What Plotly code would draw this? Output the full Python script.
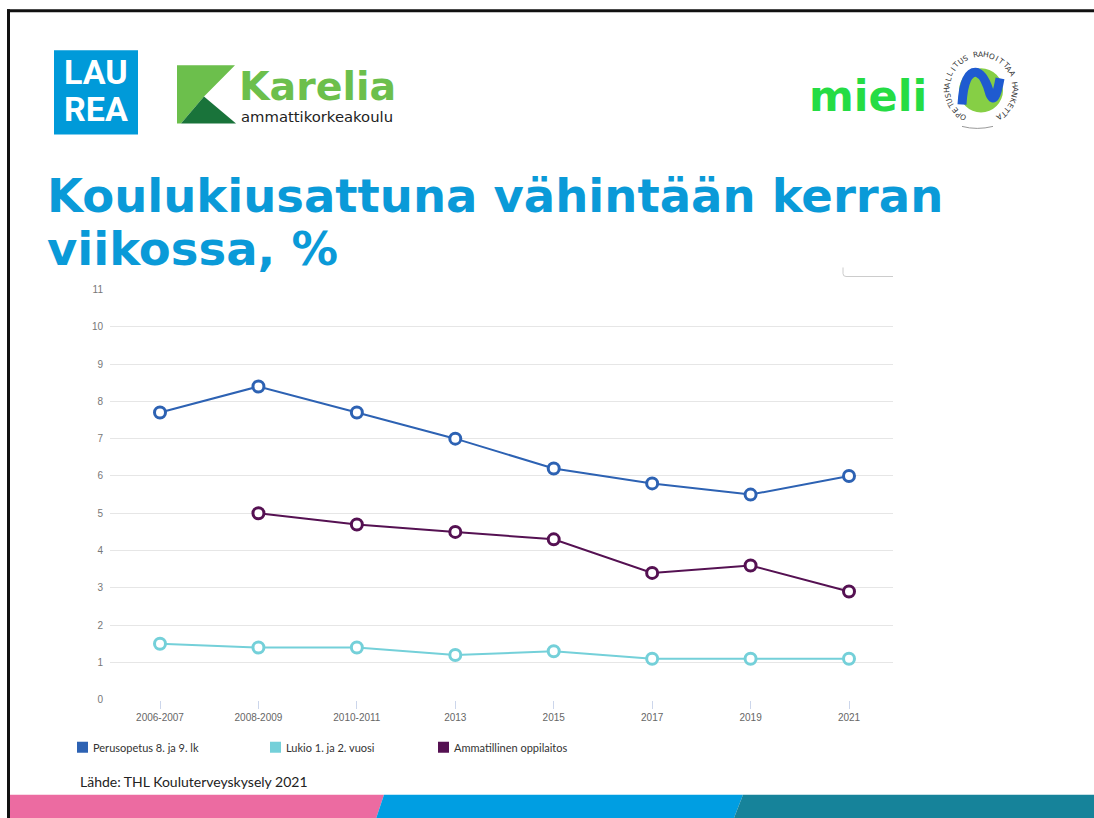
import math
import plotly.graph_objects as go

W, H = 1094, 818

# ---------------- data ----------------
categories = ["2006-2007", "2008-2009", "2010-2011", "2013", "2015", "2017", "2019", "2021"]
perusopetus = [7.7, 8.4, 7.7, 7.0, 6.2, 5.8, 5.5, 6.0]
lukio = [1.5, 1.4, 1.4, 1.2, 1.3, 1.1, 1.1, 1.1]
ammatillinen = [None, 5.0, 4.7, 4.5, 4.3, 3.4, 3.6, 2.9]
series_names = ["Perusopetus 8. ja 9. lk", "Lukio 1. ja 2. vuosi", "Ammatillinen oppilaitos"]
series_colors = ["#2d62b3", "#74d0d9", "#551152"]
y_ticks = list(range(0, 12))

title_lines = ["Koulukiusattuna vähintään kerran", "viikossa, %"]
source_text = "Lähde: THL Kouluterveyskysely 2021"
emblem_text = "OPETUSHALLITUS RAHOITTAA HANKETTA"

# vertical calibration of the rendered page (observed offset / scale)
Y_OFF, Y_SCALE = 5.66, 0.9848


def fx(x):
    return x / W


def fy(y):
    return 1 - ((y - Y_OFF) / Y_SCALE) / H


fig = go.Figure()

for name, vals, col in zip(series_names, [perusopetus, lukio, ammatillinen], series_colors):
    fig.add_trace(go.Scatter(
        x=categories, y=vals, name=name, mode="lines+markers",
        line=dict(color=col, width=2),
        marker=dict(symbol="circle", size=11, color="white", line=dict(color=col, width=3)),
        connectgaps=False, showlegend=False, cliponaxis=False,
    ))

shapes = []
annotations = []

# frame border (left + top)
shapes.append(dict(type="line", xref="paper", yref="paper", x0=fx(8.5), x1=fx(8.5), y0=fy(9), y1=fy(830),
                   line=dict(color="#111111", width=3)))
shapes.append(dict(type="line", xref="paper", yref="paper", x0=fx(7), x1=fx(1094), y0=fy(10.5), y1=fy(10.5),
                   line=dict(color="#111111", width=3)))


def poly(pts, color):
    d = "M " + " L ".join(f"{fx(x)},{fy(y)}" for x, y in pts) + " Z"
    return dict(type="path", xref="paper", yref="paper", path=d, fillcolor=color, line=dict(width=0))


# bottom colour bands
shapes.append(poly([(10, 794), (384, 794), (372, 830), (10, 830)], "#ec6ba1"))
shapes.append(poly([(384, 794), (743, 794), (729, 830), (372, 830)], "#009ee2"))
shapes.append(poly([(743, 794), (1094, 794), (1094, 830), (729, 830)], "#16839a"))

# LAUREA logo
shapes.append(dict(type="rect", xref="paper", yref="paper", x0=fx(54), x1=fx(138), y0=fy(134), y1=fy(50),
                   fillcolor="#009ad9", line=dict(width=0)))
for txt, yc in [("LAU", 71.5), ("REA", 109)]:
    annotations.append(dict(text=f"<b>{txt}</b>", x=fx(96), y=fy(yc), xref="paper", yref="paper",
                            xanchor="center", yanchor="middle", showarrow=False,
                            font=dict(family="Roboto", size=34, color="white")))

# Karelia logo
shapes.append(poly([(177, 65), (235, 65), (204, 96), (181, 123), (177, 123)], "#6cbf4c"))
shapes.append(poly([(204, 96), (236, 123), (181, 123)], "#19733a"))
annotations.append(dict(text="<b>Karelia</b>", x=fx(237), y=fy(86), xref="paper", yref="paper",
                        xanchor="left", yanchor="middle", showarrow=False,
                        font=dict(family="DejaVu Sans", size=39.5, color="#6cbf4c")))
annotations.append(dict(text="ammattikorkeakoulu", x=fx(239), y=fy(116), xref="paper", yref="paper",
                        xanchor="left", yanchor="middle", showarrow=False,
                        font=dict(family="DejaVu Sans", size=14.8, color="#222222")))

# mieli logo
annotations.append(dict(text="<b>mieli</b>", x=fx(807), y=fy(96), xref="paper", yref="paper",
                        xanchor="left", yanchor="middle", showarrow=False,
                        font=dict(family="DejaVu Sans", size=43, color="#25dc44")))
cx, cy, r = 981, 90, 22
shapes.append(dict(type="circle", xref="paper", yref="paper", x0=fx(cx - r), x1=fx(cx + r),
                   y0=fy(cy + r), y1=fy(cy - r), fillcolor="#86cf45", line=dict(width=0)))
swoosh = (f"M {fx(962)},{fy(104)} Q {fx(964)},{fy(70)} {fx(977)},{fy(72)} "
          f"Q {fx(985)},{fy(75)} {fx(990)},{fy(94)} Q {fx(995)},{fy(106)} {fx(1000)},{fy(78)}")
shapes.append(dict(type="path", xref="paper", yref="paper", path=swoosh,
                   line=dict(color="#1f5bd0", width=9)))
shapes.append(dict(type="path", xref="paper", yref="paper",
                   path=f"M {fx(962)},{fy(126)} Q {fx(977)},{fy(130)} {fx(993)},{fy(126)}",
                   line=dict(color="#999999", width=1)))
n = len(emblem_text)
rc, ccy = 34, 88
for i, ch in enumerate(emblem_text):
    if ch == " ":
        continue
    th = -148 + 296 * i / (n - 1)
    t = math.radians(th)
    annotations.append(dict(text=ch, x=fx(cx + rc * math.sin(t)), y=fy(ccy - rc * math.cos(t)),
                            xref="paper", yref="paper", xanchor="center", yanchor="middle",
                            showarrow=False, textangle=th,
                            font=dict(family="DejaVu Sans", size=7.5, color="#333333")))

# title
for txt, yc in zip(title_lines, [196, 249]):
    annotations.append(dict(text=f"<b>{txt}</b>", x=fx(45), y=fy(yc), xref="paper", yref="paper",
                            xanchor="left", yanchor="middle", showarrow=False,
                            font=dict(family="DejaVu Sans", size=46.5, color="#0a9ad8")))

# small corner bracket at chart top-right
shapes.append(dict(type="path", xref="paper", yref="paper",
                   path=f"M {fx(843)},{fy(267)} L {fx(843)},{fy(273)} Q {fx(843)},{fy(276)} {fx(846)},{fy(276)} L {fx(893)},{fy(276)}",
                   line=dict(color="#cccccc", width=1)))

# custom legend
for name, col, x0 in zip(series_names, series_colors, [77, 270, 438]):
    shapes.append(dict(type="rect", xref="paper", yref="paper", x0=fx(x0), x1=fx(x0 + 11),
                       y0=fy(752), y1=fy(741), fillcolor=col, line=dict(width=0)))
    annotations.append(dict(text=name, x=fx(x0 + 14), y=fy(746.5), xref="paper", yref="paper",
                            xanchor="left", yanchor="middle", showarrow=False,
                            font=dict(family="Lato", size=11, color="#333333")))

# source
annotations.append(dict(text=source_text, x=fx(78), y=fy(781), xref="paper", yref="paper",
                        xanchor="left", yanchor="middle", showarrow=False,
                        font=dict(family="Lato", size=14, color="#222222")))

fig.update_layout(
    width=W, height=H, autosize=False,
    margin=dict(l=0, r=0, t=0, b=0),
    paper_bgcolor="white", plot_bgcolor="white",
    shapes=shapes, annotations=annotations,
    xaxis=dict(type="category", domain=[fx(110), fx(893)], range=[-0.508, 7.447],
               showgrid=False, zeroline=False, showline=False,
               ticks="outside", ticklen=8, tickcolor="#ccd6eb", tickwidth=1,
               tickfont=dict(family="Liberation Sans Narrow, Liberation Sans, sans-serif", size=10, color="#666666"),
               fixedrange=True),
    yaxis=dict(domain=[fy(699), fy(289)], range=[0, 11], tickvals=y_ticks,
               showgrid=True, gridcolor="#e6e6e6", gridwidth=1, zeroline=False, showline=False,
               ticks="", tickfont=dict(family="Liberation Sans Narrow, Liberation Sans, sans-serif", size=10, color="#777777"),
               ticklabelstandoff=6, fixedrange=True),
    showlegend=False,
)

css_fix = (
    "var h=document.documentElement,b=document.body;"
    "[h,b].forEach(function(e){e.style.margin='0';e.style.padding='0';e.style.overflow='hidden';});"
)
fig.write_html("out.html", post_script=css_fix, config={"displayModeBar": False})
